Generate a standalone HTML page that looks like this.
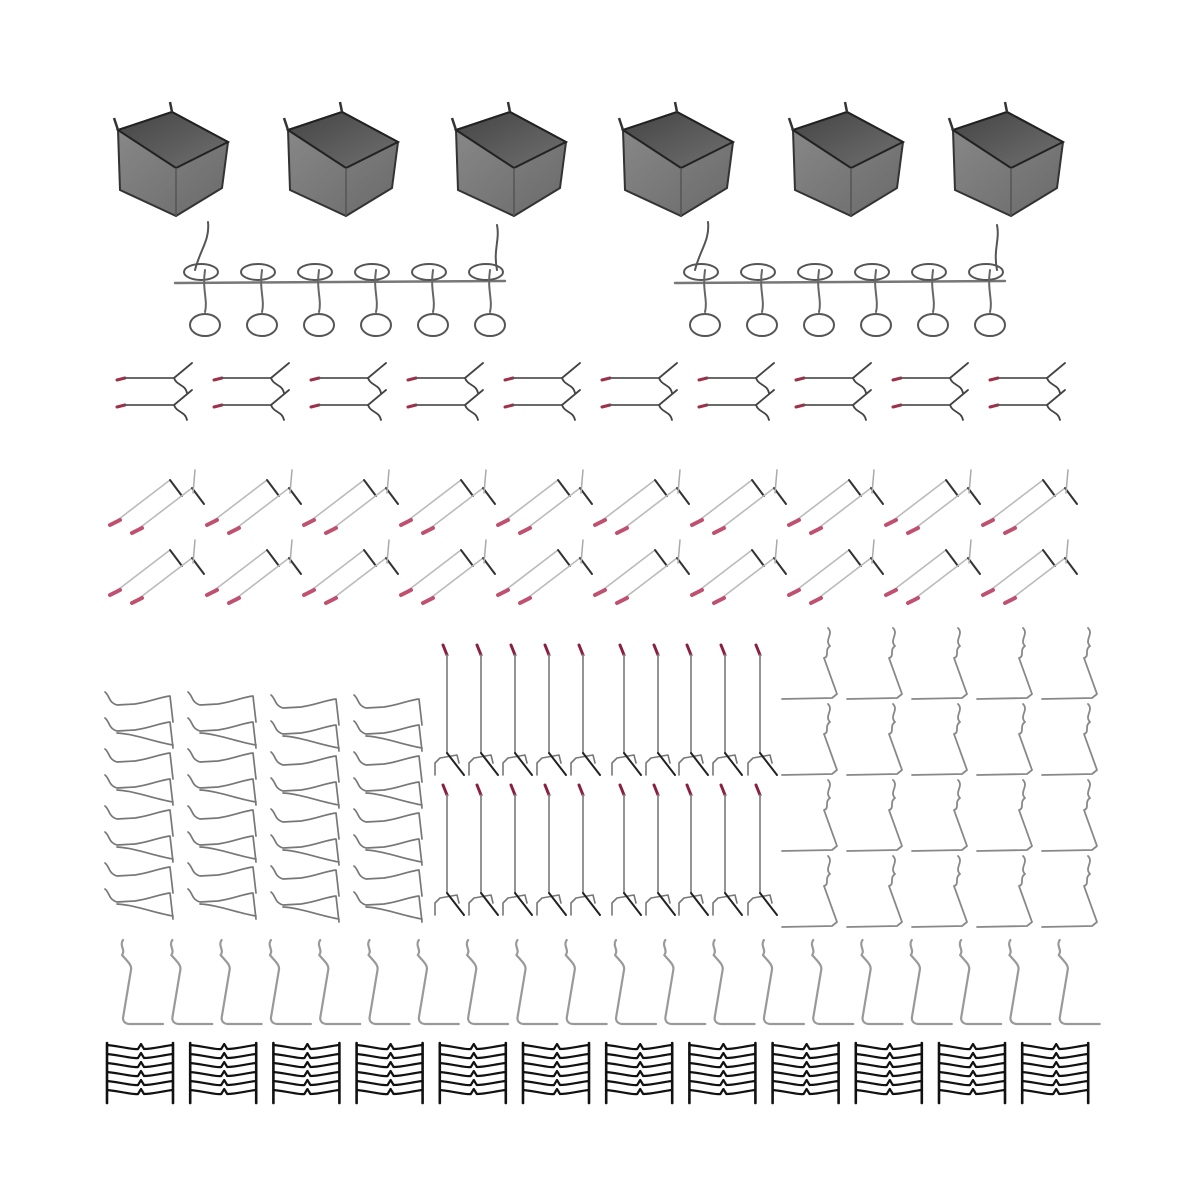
<!DOCTYPE html>
<html><head><meta charset="utf-8"><style>
html,body{margin:0;padding:0;background:#fff;width:1200px;height:1200px;overflow:hidden}
svg{display:block}
</style></head><body>
<svg id="s" width="1200" height="1200" viewBox="0 0 1200 1200" xmlns="http://www.w3.org/2000/svg">
<defs>
<linearGradient id="bf" x1="0" y1="0" x2="1" y2="1"><stop offset="0" stop-color="#8a8a8a"/><stop offset="1" stop-color="#6a6a6a"/></linearGradient>
<linearGradient id="bi" x1="0" y1="0" x2="1" y2="1"><stop offset="0" stop-color="#444"/><stop offset="1" stop-color="#707070"/></linearGradient>
</defs>
<g id="g"></g>
</svg>
<script>
var g=document.getElementById('g');var h='';
function P(d,c,w){h+='<path d="'+d+'" fill="none" stroke="'+c+'" stroke-width="'+w+'" stroke-linecap="round" stroke-linejoin="round"/>';}
// bins
[165,335,503,670,840,1000].forEach(function(cx){
 var x=cx-55,y=108;
 h+='<g transform="translate('+x+','+y+')">';
 h+='<path d="M8,22 L62,4 L118,34 L112,80 L66,108 L10,82 Z" fill="url(#bf)" stroke="#333" stroke-width="2"/>';
 h+='<path d="M8,22 L62,4 L118,34 L66,60 Z" fill="url(#bi)" stroke="#222" stroke-width="2"/>';
 h+='<path d="M66,60 L66,108" stroke="#555" stroke-width="1.5"/>';
 h+='<path d="M8,22 L4,10 M62,4 L60,-6" stroke="#333" stroke-width="2.5"/>';
 h+='</g>';
});
// loop rails
[175,675].forEach(function(x0){
 P('M'+x0+',283 L'+(x0+330)+',281','#777',2.5);
 for(var i=0;i<6;i++){var cx=x0+30+i*57;
  h+='<ellipse cx="'+(cx-4)+'" cy="272" rx="17" ry="8" fill="none" stroke="#555" stroke-width="2"/>';
  P('M'+cx+',270 C'+(cx-3)+',290 '+(cx+3)+',300 '+cx+',312','#666',2);
  h+='<ellipse cx="'+cx+'" cy="325" rx="15" ry="11" fill="none" stroke="#555" stroke-width="2"/>';
 }
 P('M'+(x0+20)+',270 C'+(x0+25)+',250 '+(x0+35)+',240 '+(x0+33)+',222','#555',2);
 P('M'+(x0+322)+',270 C'+(x0+318)+',250 '+(x0+325)+',240 '+(x0+322)+',225','#555',2);
});
// red-tip straight hooks
for(var c=0;c<10;c++)for(var r=0;r<2;r++){var x=117+c*97,y=378+r*27;
 P('M'+x+','+(y+2)+' L'+(x+8)+','+y,'#a0304a',3);
 P('M'+(x+8)+','+y+' L'+(x+57)+','+y,'#555',1.8);
 P('M'+(x+57)+','+y+' L'+(x+75)+','+(y-15)+' M'+(x+57)+','+y+' C'+(x+60)+','+(y+8)+' '+(x+68)+','+(y+6)+' '+(x+70)+','+(y+15),'#444',1.8);
}
// diagonal hooks
for(var c=0;c<10;c++)for(var r=0;r<2;r++){var x=110+c*97,y=468+r*70;
 [[0,0],[22,8]].forEach(function(o){var a=x+o[0],b=y+o[1];
  P('M'+(a+5)+','+(b+54)+' L'+(a+60)+','+(b+12),'#bbb',1.6);
  P('M'+a+','+(b+57)+' L'+(a+10)+','+(b+52),'#c05070',4);
  P('M'+(a+60)+','+(b+12)+' L'+(a+72)+','+(b+28),'#333',2);
 });
 P('M'+(x+85)+','+(y+2)+' L'+(x+83)+','+(y+25),'#aaa',1.5);
}
// left wave hooks
for(var c=0;c<4;c++)for(var r=0;r<4;r++){var x=105+c*83,y=692+r*57-(c>=2?-3:0);
 for(var k=0;k<2;k++){var yy=y+k*26;
  P('M'+x+','+yy+' C'+(x+5)+','+(yy+4)+' '+(x+3)+','+(yy+10)+' '+(x+12)+','+(yy+13)+' L'+(x+30)+','+(yy+12)+' C'+(x+45)+','+(yy+10)+' '+(x+55)+','+(yy+5)+' '+(x+65)+','+(yy+4)+' L'+(x+68)+','+(yy+30),'#777',1.7);
 }
 P('M'+(x+12)+','+(y+41)+' C'+(x+30)+','+(y+42)+' '+(x+50)+','+(y+50)+' '+(x+68)+','+(y+53),'#777',1.7);
}
// vertical J hooks
var jx=[445,479,513,547,581,622,656,689,723,758];
for(var r=0;r<2;r++)jx.forEach(function(x){var y=645+r*140;
 P('M'+(x-2)+','+y+' L'+(x+2)+','+(y+10),'#8a2040',3);
 P('M'+(x+2)+','+(y+10)+' L'+(x+2)+','+(y+108),'#888',1.8);
 P('M'+(x-10)+','+(y+130)+' L'+(x-10)+','+(y+118)+' L'+(x-5)+','+(y+113)+' L'+(x+12)+','+(y+110)+' L'+(x+14)+','+(y+118),'#777',1.6);
 P('M'+(x+2)+','+(y+108)+' L'+(x+19)+','+(y+130),'#222',2);
});
// right Z hooks
for(var r=0;r<4;r++)for(var c=0;c<5;c++){var x=780+c*65,y=628+r*76;
 P('M'+(x+48)+','+y+' C'+(x+54)+','+(y+6)+' '+(x+44)+','+(y+12)+' '+(x+50)+','+(y+18)+' C'+(x+44)+','+(y+22)+' '+(x+50)+','+(y+28)+' '+(x+44)+','+(y+30)+' L'+(x+57)+','+(y+66)+' L'+(x+52)+','+(y+70)+' L'+(x+2)+','+(y+71),'#888',1.8);
}
// bottom L hooks
for(var i=0;i<20;i++){var x=118+i*49.3,y=940;
 P('M'+(x+5)+','+y+' C'+(x+1)+','+(y+6)+' '+(x+8)+','+(y+10)+' '+(x+4)+','+(y+15)+' C'+(x+10)+','+(y+22)+' '+(x+14)+','+(y+25)+' '+(x+13)+','+(y+30)+' L'+(x+5)+','+(y+78)+' C'+(x+5)+','+(y+82)+' '+(x+8)+','+(y+84)+' '+(x+12)+','+(y+84)+' L'+(x+45)+','+(y+84),'#999',2.2);
}
// black racks
for(var i=0;i<12;i++){var x=105+i*83.2,y=1043;
 P('M'+(x+2)+','+(y+60)+' L'+(x+2)+','+(y)+' M'+(x+68)+','+(y+60)+' L'+(x+68)+','+y,'#111',2.6);
 for(var k=0;k<6;k++){var yy=y+2+k*9;
  P('M'+(x+2)+','+yy+' C'+(x+20)+','+(yy+2)+' '+(x+28)+','+(yy+5)+' '+(x+33)+','+(yy+4)+' L'+(x+36)+','+(yy-1)+' L'+(x+39)+','+(yy+4)+' C'+(x+48)+','+(yy+4)+' '+(x+58)+','+(yy+1)+' '+(x+68)+','+yy,'#111',2.2);
 }
}
g.innerHTML=h;
</script>
</body></html>
